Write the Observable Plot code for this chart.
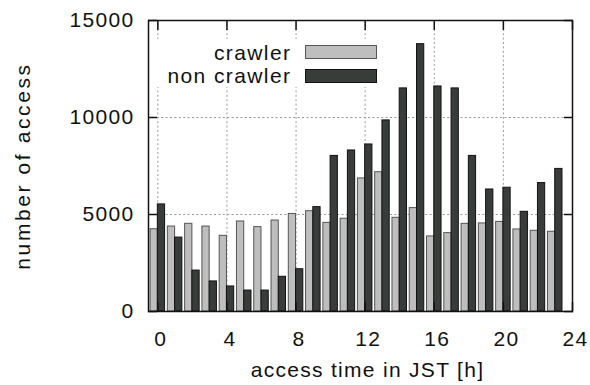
<!DOCTYPE html>
<html>
<head>
<meta charset="utf-8">
<script src="https://cdn.jsdelivr.net/npm/d3@7"></script>
<script src="https://cdn.jsdelivr.net/npm/@observablehq/plot@0.6"></script>
<style>
  body { margin: 0; background: #fff; }
  #wrap { position: relative; width: 590px; height: 385px; font-family: "Liberation Sans", Arial, sans-serif; }
  .key { position: absolute; }
  .keytext { position: absolute; font-size: 21px; line-height: 21px; letter-spacing: 1.4px; color: #111; text-align: right; white-space: nowrap; }
  .sw { position: absolute; box-sizing: border-box; }
  .ylab { letter-spacing: 2.6px; }
</style>
</head>
<body>
<div id="wrap"></div>
<script>
const hours = [0, 1, 2, 3, 4, 5, 6, 7, 8, 9, 10, 11, 12, 13, 14, 15, 16, 17, 18, 19, 20, 21, 22, 23];
const crawler = [4240, 4380, 4520, 4380, 3900, 4640, 4350, 4690, 5030, 5170, 4570, 4780, 6860, 7180, 4830, 5330, 3870, 4040, 4520, 4540, 4620, 4230, 4160, 4110];
const nonCrawler = [5520, 3810, 2110, 1550, 1290, 1080, 1080, 1790, 2180, 5380, 8020, 8300, 8610, 9850, 11500, 13780, 11600, 11500, 8020, 6290, 6380, 5140, 6620, 7350];
const seriesNames = ["crawler", "non crawler"];
const xTicks = [0, 4, 8, 12, 16, 20, 24];
const yTicks = [0, 5000, 10000, 15000];
const xLabel = "access time in JST [h]";
const yLabel = "number of access";

const rows = hours.map((h, i) => ({hour: h, crawler: crawler[i], non: nonCrawler[i]}));
const half = 0.42;
const noLabel = () => "";

const chart = Plot.plot({
  width: 590,
  height: 385,
  marginLeft: 148,
  marginRight: 18,
  marginTop: 20,
  marginBottom: 74,
  x: {domain: [-0.54, 24]},
  y: {domain: [0, 15000]},
  style: {fontFamily: "'Liberation Sans', Arial, sans-serif", fontSize: "21px", letterSpacing: "1.3px", color: "#111", background: "#fff"},
  marks: [
    Plot.gridX(xTicks, {stroke: "#999", strokeOpacity: 1, strokeDasharray: "2,2.4"}),
    Plot.gridY([5000, 10000], {stroke: "#999", strokeOpacity: 1, strokeDasharray: "2,2.4"}),
    Plot.rectY(rows, {x1: d => d.hour - half, x2: d => d.hour, y: "crawler", fill: "#bebebe", stroke: "#555", strokeWidth: 1}),
    Plot.rectY(rows, {x1: d => d.hour, x2: d => d.hour + half, y: "non", fill: "#393d39", stroke: "#111", strokeWidth: 1}),
    Plot.frame({stroke: "#111", strokeWidth: 1.5}),
    Plot.axisX(xTicks, {anchor: "bottom", tickSize: 0, tickPadding: 20, dx: 3, label: null, tickFormat: "d"}),
    Plot.axisX(xTicks, {anchor: "bottom", tickSize: -9, tickFormat: noLabel, label: null, strokeWidth: 1.5}),
    Plot.axisX(xTicks, {anchor: "top", tickSize: -9, tickFormat: noLabel, label: null, strokeWidth: 1.5}),
    Plot.axisY(yTicks, {anchor: "left", tickSize: 0, tickPadding: 14, label: null, tickFormat: "d"}),
    Plot.axisY(yTicks, {anchor: "left", tickSize: -9, tickFormat: noLabel, label: null, strokeWidth: 1.5}),
    Plot.axisY(yTicks, {anchor: "right", tickSize: -9, tickFormat: noLabel, label: null, strokeWidth: 1.5}),
    Plot.text([xLabel], {text: d => d, frameAnchor: "bottom", textAnchor: "middle", dy: 65, dx: 7, fontSize: 21}),
    Plot.text([yLabel], {text: d => d, frameAnchor: "left", textAnchor: "middle", dx: -125, rotate: -90, fontSize: 21, className: "ylab"})
  ]
});

const wrap = document.getElementById("wrap");
wrap.appendChild(chart);

// legend (key) overlay inside the plot frame
const keyBox = document.createElement("div");
keyBox.className = "key";
Object.assign(keyBox.style, {left: "152px", top: "39px", width: "233px", height: "48px", background: "#fff"});
wrap.appendChild(keyBox);
const keyStyles = [
  {fill: "#bebebe", stroke: "#555", textTop: 42, swTop: 45},
  {fill: "#393d39", stroke: "#111", textTop: 65, swTop: 69}
];
seriesNames.forEach((name, i) => {
  const s = keyStyles[i];
  const t = document.createElement("div");
  t.className = "keytext";
  t.textContent = name;
  Object.assign(t.style, {right: (590 - 291.4) + "px", top: s.textTop + "px"});
  wrap.appendChild(t);
  const sw = document.createElement("div");
  sw.className = "sw";
  Object.assign(sw.style, {left: "305px", top: s.swTop + "px", width: "72px", height: "14px", background: s.fill, border: "1.5px solid " + s.stroke});
  wrap.appendChild(sw);
});
</script>
</body>
</html>
